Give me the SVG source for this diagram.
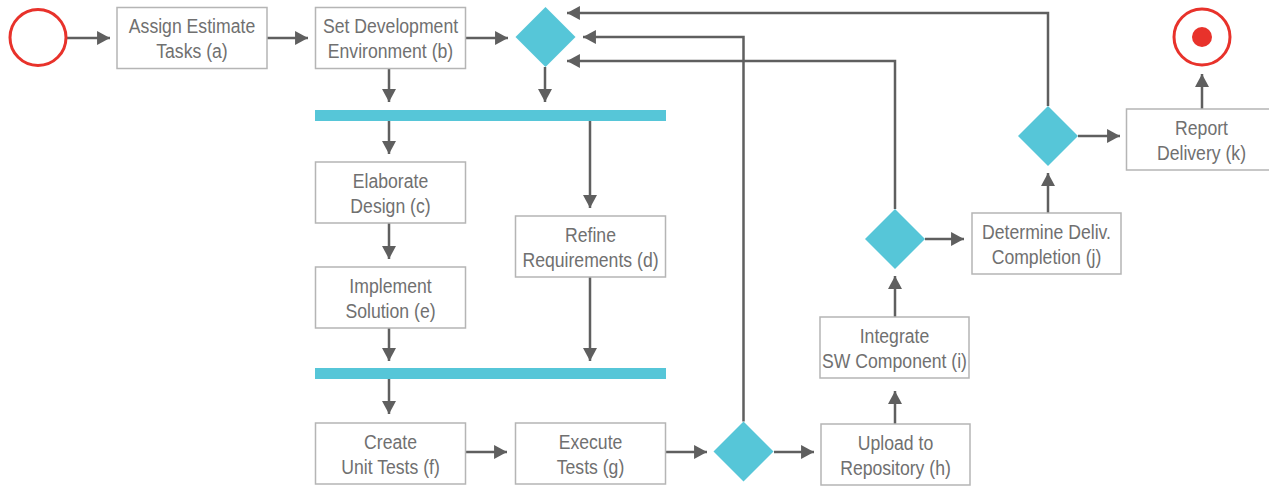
<svg xmlns="http://www.w3.org/2000/svg" width="1269" height="487" viewBox="0 0 1269 487">
<style>
.box{fill:#fff;stroke:#b5b5b5;stroke-width:1.5}
.lbl{font-family:"Liberation Sans",Arial,sans-serif;font-size:21px;fill:#707070;text-anchor:middle}
.dia{fill:#56c6d8}
.bar{fill:#56c6d8}
.conn{fill:none;stroke:#5f5f5f;stroke-width:2.5;marker-end:url(#arr)}
</style>
<defs>
<marker id="arr" markerUnits="userSpaceOnUse" markerWidth="14" markerHeight="14" viewBox="0 0 12 13" refX="12" refY="6.5" orient="auto">
<path d="M0,0 L12,6.5 L0,13 Z" fill="#5f5f5f"/>
</marker>
</defs>
<rect width="1269" height="487" fill="#fff"/>
<g id="connectors">
<path class="conn" d="M67,38 H110"/>
<path class="conn" d="M267,38 H308"/>
<path class="conn" d="M466,38 H508"/>
<path class="conn" d="M389,68.5 V102"/>
<path class="conn" d="M545,67 V102"/>
<path class="conn" d="M389,121 V154"/>
<path class="conn" d="M590,121 V208"/>
<path class="conn" d="M389,223 V259"/>
<path class="conn" d="M389,328 V361"/>
<path class="conn" d="M590,277 V361"/>
<path class="conn" d="M389,379 V414"/>
<path class="conn" d="M465.5,452 H507"/>
<path class="conn" d="M665.5,452 H707"/>
<path class="conn" d="M774,452 H814"/>
<path class="conn" d="M743.5,421.5 V37 H583"/>
<path class="conn" d="M895,424 V391"/>
<path class="conn" d="M895,317 V276"/>
<path class="conn" d="M895,209 V61 H567"/>
<path class="conn" d="M925,239 H964"/>
<path class="conn" d="M1048,213 V173"/>
<path class="conn" d="M1048,106 V13 H567"/>
<path class="conn" d="M1078,136 H1120"/>
<path class="conn" d="M1202,109 V74"/>
</g>
<g id="start"><circle cx="38" cy="37.5" r="28" fill="#fff" stroke="#e8322b" stroke-width="3"/></g>
<g id="end"><circle cx="1202" cy="37" r="28" fill="#fff" stroke="#e8322b" stroke-width="3"/><circle cx="1202" cy="37" r="10" fill="#e8322b"/></g>
<g id="fork1"><rect class="bar" x="315" y="110" width="351" height="11"/></g>
<g id="join1"><rect class="bar" x="315" y="368" width="351" height="11"/></g>
<g id="decision1"><polygon class="dia" points="545.5,7 575.5,37 545.5,67 515.5,37"/></g>
<g id="decision2"><polygon class="dia" points="743.5,421.5 773.5,451.5 743.5,481.5 713.5,451.5"/></g>
<g id="decision3"><polygon class="dia" points="895,209 925,239 895,269 865,239"/></g>
<g id="decision4"><polygon class="dia" points="1048,106 1078,136 1048,166 1018,136"/></g>
<g id="a"><rect class="box" x="117" y="7.5" width="150" height="61"/>
<g transform="translate(192,0) scale(0.84,1)"><text class="lbl" x="0" y="33">Assign Estimate</text><text class="lbl" x="0" y="58">Tasks (a)</text></g></g>
<g id="b"><rect class="box" x="315.5" y="7.5" width="150" height="61"/>
<g transform="translate(390.5,0) scale(0.84,1)"><text class="lbl" x="0" y="33">Set Development</text><text class="lbl" x="0" y="58">Environment (b)</text></g></g>
<g id="c"><rect class="box" x="315.5" y="162" width="150" height="61"/>
<g transform="translate(390.5,0) scale(0.84,1)"><text class="lbl" x="0" y="188">Elaborate</text><text class="lbl" x="0" y="213">Design (c)</text></g></g>
<g id="d"><rect class="box" x="515.5" y="216" width="150" height="61"/>
<g transform="translate(590.5,0) scale(0.84,1)"><text class="lbl" x="0" y="242">Refine</text><text class="lbl" x="0" y="267">Requirements (d)</text></g></g>
<g id="e"><rect class="box" x="315.5" y="267" width="150" height="61"/>
<g transform="translate(390.5,0) scale(0.84,1)"><text class="lbl" x="0" y="293">Implement</text><text class="lbl" x="0" y="318">Solution (e)</text></g></g>
<g id="f"><rect class="box" x="315.5" y="423" width="150" height="61"/>
<g transform="translate(390.5,0) scale(0.84,1)"><text class="lbl" x="0" y="449">Create</text><text class="lbl" x="0" y="474">Unit Tests (f)</text></g></g>
<g id="g"><rect class="box" x="515.5" y="423" width="150" height="61"/>
<g transform="translate(590.5,0) scale(0.84,1)"><text class="lbl" x="0" y="449">Execute</text><text class="lbl" x="0" y="474">Tests (g)</text></g></g>
<g id="h"><rect class="box" x="821" y="424" width="149" height="61"/>
<g transform="translate(895.5,0) scale(0.84,1)"><text class="lbl" x="0" y="450">Upload to</text><text class="lbl" x="0" y="475">Repository (h)</text></g></g>
<g id="i"><rect class="box" x="820" y="317" width="149" height="61"/>
<g transform="translate(894.5,0) scale(0.84,1)"><text class="lbl" x="0" y="343">Integrate</text><text class="lbl" x="0" y="368">SW Component (i)</text></g></g>
<g id="j"><rect class="box" x="972" y="213" width="149" height="61"/>
<g transform="translate(1046.5,0) scale(0.84,1)"><text class="lbl" x="0" y="239">Determine Deliv.</text><text class="lbl" x="0" y="264">Completion (j)</text></g></g>
<g id="k"><rect class="box" x="1126.5" y="109" width="150" height="61"/>
<g transform="translate(1201.5,0) scale(0.84,1)"><text class="lbl" x="0" y="135">Report</text><text class="lbl" x="0" y="160">Delivery (k)</text></g></g>
</svg>
